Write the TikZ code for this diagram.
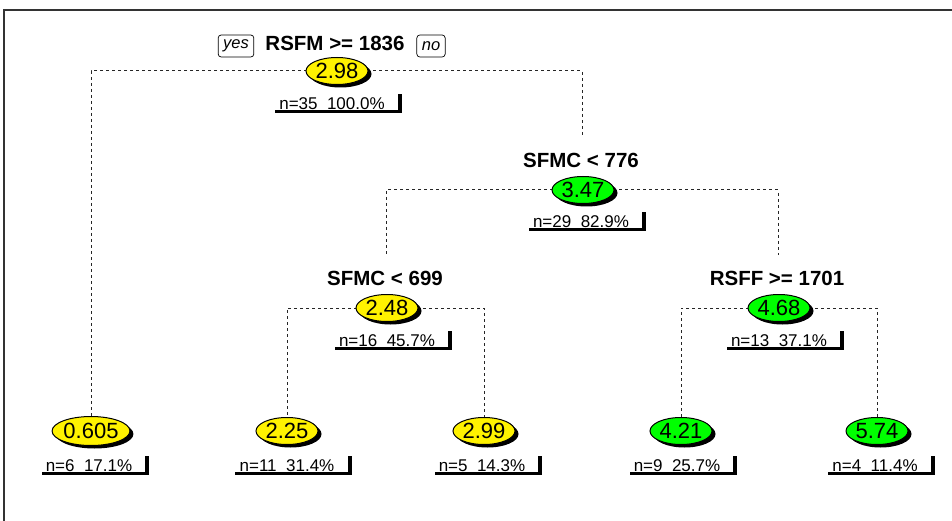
\documentclass[tikz,border=0pt]{standalone}
\usepackage{fontspec}
\setmainfont{Liberation Sans}
\usetikzlibrary{shapes.geometric,shadows,calc}
\pgfdeclarelayer{background}
\pgfsetlayers{background,main}

\tikzset{
  edge/.style={draw=black!85, line width=1pt, dash pattern=on 3pt off 3pt},
  val/.style={ellipse, draw=black, line width=1pt, inner sep=0pt,
    minimum width=62pt, minimum height=27pt,
    font=\fontsize{22}{22}\selectfont,
    drop shadow={shadow xshift=3.5pt, shadow yshift=-3pt, fill=black, opacity=1}},
  lo/.style={val, fill=yellow},
  hi/.style={val, fill=green},
  split/.style={font=\bfseries\fontsize{20.5}{20.5}\selectfont, inner sep=0pt},
  ntext/.style={font=\fontsize{17}{17}\selectfont, inner sep=0pt},
  dir/.style={draw, rounded corners=3pt, line width=0.7pt, inner xsep=5pt,
    inner ysep=0pt, minimum height=22pt, font=\itshape\fontsize{16.5}{16.5}\selectfont}
}

% count/percentage text with its shadowed white box
\newcommand\statbox[3]{%
  \node[ntext] (#1) at (#2) {#3};
  \begin{pgfonlayer}{background}
    \fill[black] ($(#1.west)+(-4,-10)$) rectangle ($(#1.east)+(17,9)$);
    \fill[white] ($(#1.west)+(-7,-13)$) rectangle ($(#1.east)+(13,6)$);
  \end{pgfonlayer}
}

\begin{document}
\begin{tikzpicture}[x=1pt,y=-1pt]
\useasboundingbox (0,0) rectangle (952,521);

% frame
\draw[line width=2pt, black!80] (4,521) -- (4,10) -- (952,10);

% fixed points where split connectors stop above their labels
\coordinate (Atop) at (582,137);
\coordinate (Btop) at (386,255);
\coordinate (Ctop) at (778,255);

% split nodes
\node[split] (Rlab) at (335,43) {RSFM >= 1836};
\node[dir] (yes) at (236,46) {yes};
\node[dir] (no) at (431,46) {no};
\node[split] (Alab) at (581,160) {SFMC < 776};
\node[split] (Blab) at (385,278) {SFMC < 699};
\node[split] (Clab) at (777,278) {RSFF >= 1701};

% coordinates of the ellipses
\coordinate (Rc) at (337,71);
\coordinate (Ac) at (583,190);
\coordinate (Bc) at (387,308);
\coordinate (Cc) at (779,308);

% leaves
\path (91,431) node[lo, minimum width=69pt, minimum height=29pt] (L1) {0.605};
\path (287,431) node[lo] (L2) {2.25};
\path (484,431) node[lo] (L3) {2.99};
\path (681,431) node[hi] (L4) {4.21};
\path (877,431) node[hi] (L5) {5.74};

% connectors
\begin{pgfonlayer}{background}
\draw[edge] (Rc) -| (L1.north);
\draw[edge] (Rc) -| (Atop);
\draw[edge] (Ac) -| (Btop);
\draw[edge] (Ac) -| (Ctop);
\draw[edge] (Bc) -| (L2.north);
\draw[edge] (Bc) -| (L3.north);
\draw[edge] (Cc) -| (L4.north);
\draw[edge] (Cc) -| (L5.north);
\end{pgfonlayer}

% inner ellipses
\node[lo] (R) at (Rc) {2.98};
\node[hi] (A) at (Ac) {3.47};
\node[lo] (B) at (Bc) {2.48};
\node[hi] (C) at (Cc) {4.68};

% counts
\statbox{Rn}{332,104}{n=35\ \ 100.0\%}
\statbox{An}{581,222}{n=29\ \ 82.9\%}
\statbox{Bn}{387,341}{n=16\ \ 45.7\%}
\statbox{Cn}{779,341}{n=13\ \ 37.1\%}
\statbox{L1n}{89,466}{n=6\ \ 17.1\%}
\statbox{L2n}{287,466}{n=11\ \ 31.4\%}
\statbox{L3n}{482,466}{n=5\ \ 14.3\%}
\statbox{L4n}{677,466}{n=9\ \ 25.7\%}
\statbox{L5n}{875,466}{n=4\ \ 11.4\%}
\end{tikzpicture}
\end{document}
